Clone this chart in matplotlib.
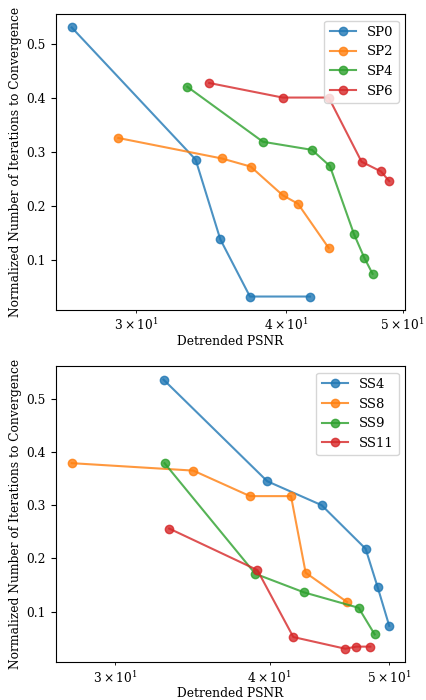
import matplotlib
matplotlib.use("Agg")
import matplotlib.pyplot as plt

plt.rcParams["font.family"] = "DejaVu Serif"
plt.rcParams["font.size"] = 8.8

# top panel
sp0_psnr = [26.52, 33.63, 35.26, 37.32, 41.87]
sp0_iters = [0.531, 0.286, 0.138, 0.032, 0.032]
sp2_psnr = [29.0, 35.37, 37.37, 39.73, 40.92, 43.4]
sp2_iters = [0.326, 0.288, 0.273, 0.220, 0.204, 0.122]
sp4_psnr = [33.1, 38.26, 42.03, 43.5, 45.55, 46.46, 47.21]
sp4_iters = [0.421, 0.319, 0.304, 0.274, 0.148, 0.104, 0.074]
sp6_psnr = [34.52, 39.73, 43.4, 46.22, 47.97, 48.74]
sp6_iters = [0.428, 0.401, 0.401, 0.282, 0.264, 0.246]

# bottom panel
ss4_psnr = [32.84, 39.83, 44.07, 47.83, 48.91, 49.98]
ss4_iters = [0.536, 0.345, 0.300, 0.218, 0.146, 0.073]
ss8_psnr = [27.68, 34.71, 38.57, 41.63, 42.78, 46.2]
ss8_iters = [0.379, 0.365, 0.317, 0.317, 0.173, 0.118]
ss9_psnr = [32.9, 38.95, 42.65, 47.21, 48.64]
ss9_iters = [0.379, 0.171, 0.136, 0.107, 0.057]
ss11_psnr = [33.19, 39.1, 41.81, 46.06, 47.01, 48.25]
ss11_iters = [0.256, 0.178, 0.052, 0.030, 0.034, 0.034]

top_series = [
    ("SP0", sp0_psnr, sp0_iters),
    ("SP2", sp2_psnr, sp2_iters),
    ("SP4", sp4_psnr, sp4_iters),
    ("SP6", sp6_psnr, sp6_iters),
]
bottom_series = [
    ("SS4", ss4_psnr, ss4_iters),
    ("SS8", ss8_psnr, ss8_iters),
    ("SS9", ss9_psnr, ss9_iters),
    ("SS11", ss11_psnr, ss11_iters),
]

fig, axes = plt.subplots(2, 1, figsize=(4.26, 7.0), dpi=100)
fig.subplots_adjust(left=0.131, right=0.951, top=0.98, bottom=0.054, hspace=0.19)

for axis, series in zip(axes, [top_series, bottom_series]):
    for label, psnr, iters in series:
        axis.plot(psnr, iters, marker="o", markersize=6, alpha=0.8, label=label)
    axis.set_xscale("log")
    axis.set_xlabel("Detrended PSNR", labelpad=1)
    axis.set_ylabel("Normalized Number of Iterations to Convergence", labelpad=3)
    axis.legend(loc="upper right", fontsize=9.5)

fig.savefig("out.png", dpi=100)
